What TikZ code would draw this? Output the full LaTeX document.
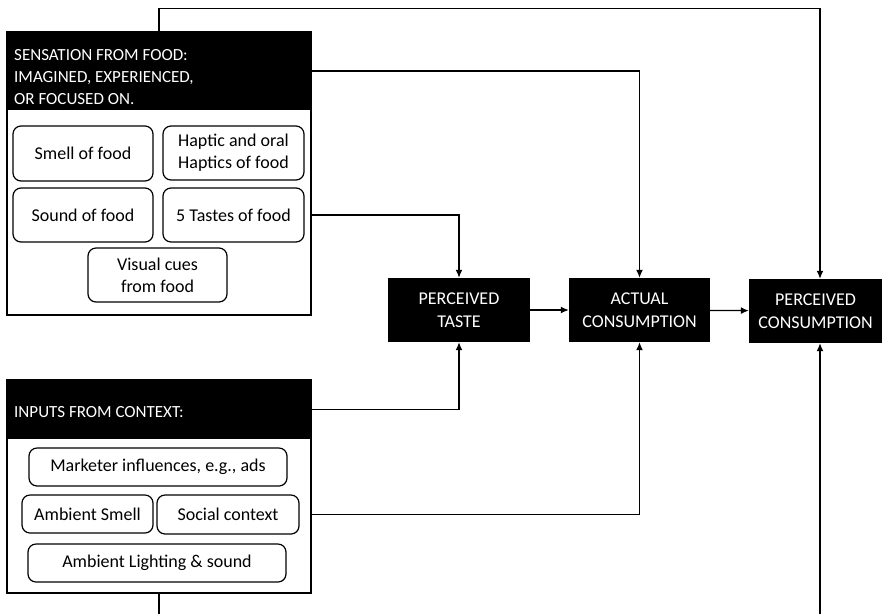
\documentclass[tikz,border=0pt]{standalone}
\usepackage{fontspec}
\setmainfont{Carlito}
\usetikzlibrary{arrows.meta}

\tikzset{
  panel/.style = {draw, line width=1.3pt, minimum width=304pt},
  header/.style = {fill=black, minimum width=304pt, inner sep=0pt},
  hdrtext/.style = {text=white, align=left, inner sep=0pt, anchor=west, font=\fontsize{17}{22}\selectfont},
  cue/.style = {draw, rounded corners=8pt, line width=1.2pt, align=center, inner sep=2pt, font=\fontsize{18}{22}\selectfont},
  outcome/.style = {fill=black, text=white, align=center, minimum height=64pt, font=\fontsize{18}{23}\selectfont},
  flow/.style = {line width=1.3pt, -{Latex[length=8pt,width=7pt]}}
}

\begin{document}
\begin{tikzpicture}[x=1pt, y=-1pt]
\useasboundingbox (0,0) rectangle (882,614);

% sensation from food
\node[panel, minimum height=283pt] (panelA) at (159,173.5) {};
\node[header, minimum height=78pt] (hdrA) at (159,71) {};
\node[hdrtext] (hdrAtext) at (14,77.5) {SENSATION FROM FOOD:\\IMAGINED, EXPERIENCED,\\OR FOCUSED ON.};
\node[cue, minimum width=140pt, minimum height=55pt] (smell) at (83,153.5) {Smell of food};
\node[cue, minimum width=141pt, minimum height=54pt] (haptic) at (233.5,153) {Haptic and oral\\Haptics of food};
\node[cue, minimum width=140pt, minimum height=54pt] (sound) at (83,215) {Sound of food};
\node[cue, minimum width=141pt, minimum height=54pt] (tastes) at (233.5,215) {5 Tastes of food};
\node[cue, minimum width=139pt, minimum height=54pt] (visual) at (157.5,275) {Visual cues\\from food};

% inputs from context
\node[panel, minimum height=213pt] (panelB) at (159,486.5) {};
\node[header, minimum height=59pt] (hdrB) at (159,409.5) {};
\node[hdrtext] (hdrBtext) at (14,412) {INPUTS FROM CONTEXT:};
\node[cue, minimum width=258pt, minimum height=38pt] (marketer) at (158,467) {Marketer influences, e.g., ads};
\node[cue, minimum width=131pt, minimum height=38pt] (asmell) at (87.5,514) {Ambient Smell};
\node[cue, minimum width=142pt, minimum height=39pt] (social) at (228,514.5) {Social context};
\node[cue, minimum width=258pt, minimum height=38pt] (lighting) at (157,563) {Ambient Lighting \& sound};

% outcomes
\node[outcome, minimum width=142pt] (taste) at (459,310) {PERCEIVED\\TASTE};
\node[outcome, minimum width=141pt] (actual) at (639.5,310) {ACTUAL\\CONSUMPTION};
\node[outcome, minimum width=133pt] (pcons) at (815.5,311) {PERCEIVED\\CONSUMPTION};

\coordinate (pconsN) at ([xshift=4.5pt]pcons.north);
\coordinate (pconsS) at ([xshift=4.5pt]pcons.south);
\coordinate (exitB) at (159,614);
\coordinate (entryC) at (pconsS |- exitB);

% connectors
\draw[flow] (hdrA.north) -- ++(0,-23) -| (pconsN);
\draw[flow] (hdrA.east) -| (actual.north);
\draw[flow] (panelA.east |- tastes.east) -| (taste.north);
\draw[flow] (hdrB.east) -| (taste.south);
\draw[flow] (panelB.east |- social.east) -| (actual.south);
\draw[flow] (taste) -- (actual);
\draw[flow] (actual) -- (pcons);
\draw[line width=1.3pt] (panelB.south) -- (exitB);
\draw[flow] (entryC) -- (pconsS);

\end{tikzpicture}
\end{document}
